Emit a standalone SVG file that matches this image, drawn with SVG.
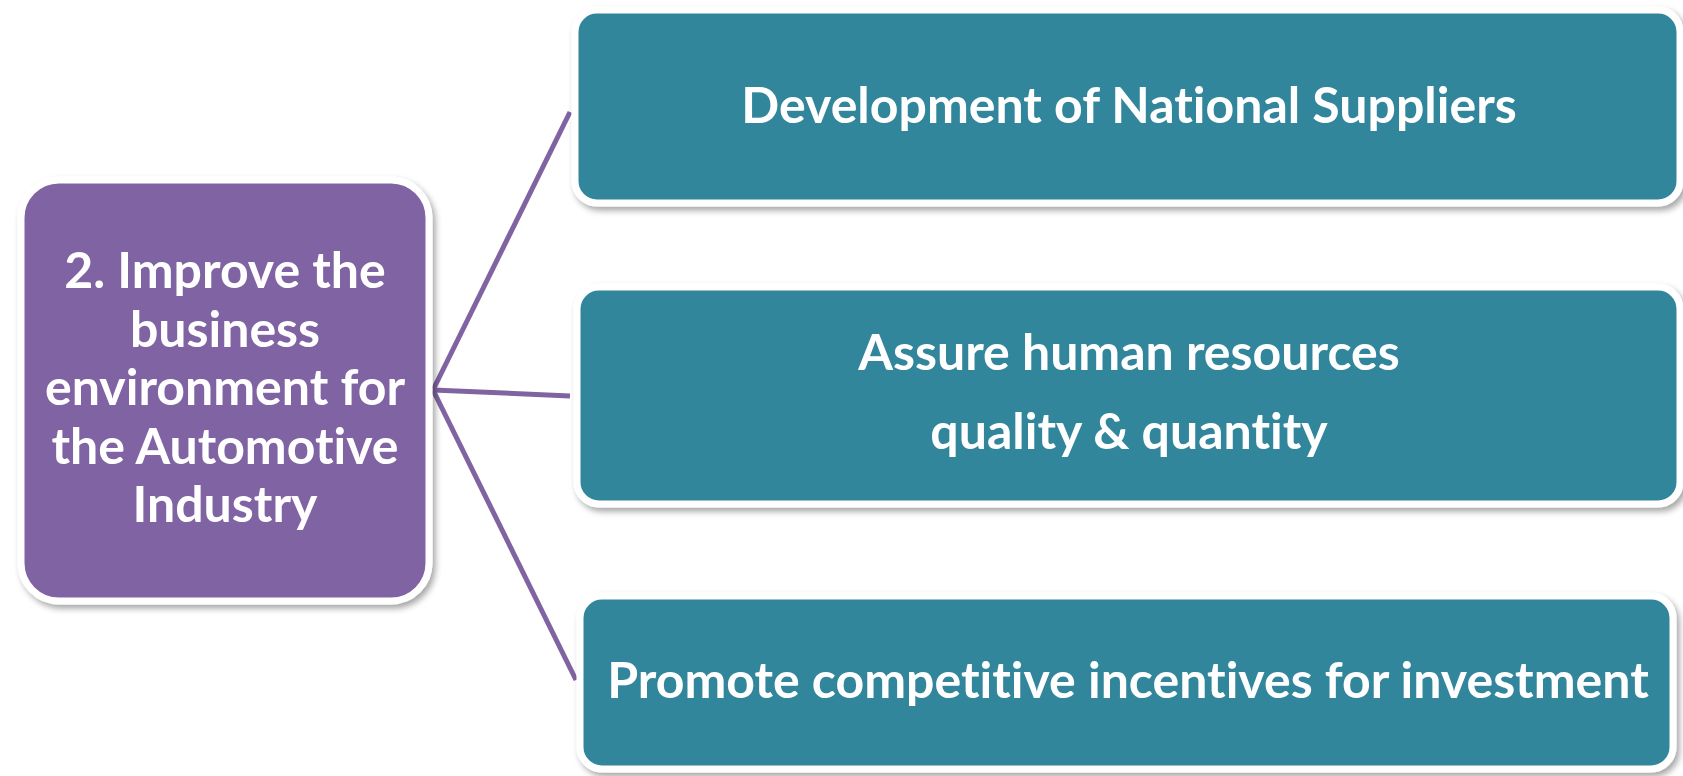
<svg xmlns="http://www.w3.org/2000/svg" width="1683" height="776" viewBox="0 0 1683 776">
<defs>
<filter id="sh" x="-5%" y="-5%" width="112%" height="115%">
<feDropShadow dx="3" dy="4" stdDeviation="3" flood-color="#000" flood-opacity="0.35"/>
</filter>
<style>
.box{stroke:#fff;stroke-width:7;filter:url(#sh)}
.purple{fill:#8064A2}
.teal{fill:#31869C}
.t{font-family:Lato,"Open Sans",sans-serif;font-weight:bold;fill:#fff;text-anchor:middle;font-variant-ligatures:none;font-feature-settings:"liga" 0}
.big{font-size:50px}
.conn{stroke:#8064A2;stroke-width:5;fill:none}
</style>
</defs>
<rect width="1683" height="776" fill="#fff"/>
<g id="connectors">
<line class="conn" x1="433" y1="390" x2="570" y2="112"/>
<line class="conn" x1="433" y1="390" x2="570" y2="396"/>
<line class="conn" x1="433" y1="390" x2="576" y2="680"/>
</g>
<g id="main">
<rect class="box purple" x="21" y="180" width="408" height="421" rx="38"/>
<text class="t big" x="225"><tspan x="225" y="288">2. Improve the</tspan><tspan x="225" y="347">business</tspan><tspan x="225" y="405">environment for</tspan><tspan x="225" y="464">the Automotive</tspan><tspan x="225" y="522">Industry</tspan></text>
</g>
<g id="n1">
<rect class="box teal" x="575" y="10" width="1105" height="193" rx="22"/>
<text class="t big" x="1129" y="123">Development of National Suppliers</text>
</g>
<g id="n2">
<rect class="box teal" x="577" y="287" width="1103" height="217" rx="22"/>
<text class="t big" x="1129" y="370">Assure human resources</text>
<text class="t big" x="1129" y="449">quality &amp; quantity</text>
</g>
<g id="n3">
<rect class="box teal" x="580" y="596" width="1093" height="173" rx="22"/>
<text class="t big" x="1128" y="698">Promote competitive incentives for investment</text>
</g>
</svg>
